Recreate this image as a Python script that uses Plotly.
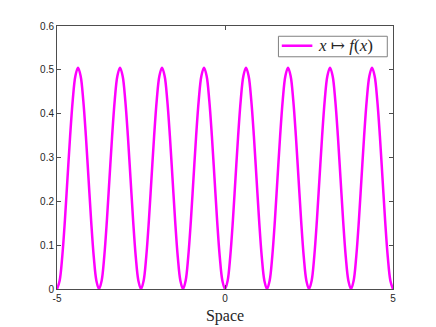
import plotly.graph_objects as go

x_vals = [
    -5.0, -4.921875, -4.84375, -4.765625, -4.6875, -4.609375, -4.53125, -4.453125,
    -4.375, -4.296875, -4.21875, -4.140625, -4.0625, -3.984375, -3.90625, -3.828125,
    -3.75, -3.671875, -3.59375, -3.515625, -3.4375, -3.359375, -3.28125, -3.203125,
    -3.125, -3.046875, -2.96875, -2.890625, -2.8125, -2.734375, -2.65625, -2.578125,
    -2.5, -2.421875, -2.34375, -2.265625, -2.1875, -2.109375, -2.03125, -1.953125,
    -1.875, -1.796875, -1.71875, -1.640625, -1.5625, -1.484375, -1.40625, -1.328125,
    -1.25, -1.171875, -1.09375, -1.015625, -0.9375, -0.859375, -0.78125, -0.703125,
    -0.625, -0.546875, -0.46875, -0.390625, -0.3125, -0.234375, -0.15625, -0.078125,
    0.0, 0.078125, 0.15625, 0.234375, 0.3125, 0.390625, 0.46875, 0.546875,
    0.625, 0.703125, 0.78125, 0.859375, 0.9375, 1.015625, 1.09375, 1.171875,
    1.25, 1.328125, 1.40625, 1.484375, 1.5625, 1.640625, 1.71875, 1.796875,
    1.875, 1.953125, 2.03125, 2.109375, 2.1875, 2.265625, 2.34375, 2.421875,
    2.5, 2.578125, 2.65625, 2.734375, 2.8125, 2.890625, 2.96875, 3.046875,
    3.125, 3.203125, 3.28125, 3.359375, 3.4375, 3.515625, 3.59375, 3.671875,
    3.75, 3.828125, 3.90625, 3.984375, 4.0625, 4.140625, 4.21875, 4.296875,
    4.375, 4.453125, 4.53125, 4.609375, 4.6875, 4.765625, 4.84375, 4.921875,
    5.0,
]
y_vals = [
    0.0, 0.019, 0.074, 0.156, 0.253, 0.349, 0.431, 0.486,
    0.505, 0.486, 0.431, 0.349, 0.253, 0.156, 0.074, 0.019,
    0.0, 0.019, 0.074, 0.156, 0.253, 0.349, 0.431, 0.486,
    0.505, 0.486, 0.431, 0.349, 0.253, 0.156, 0.074, 0.019,
    0.0, 0.019, 0.074, 0.156, 0.253, 0.349, 0.431, 0.486,
    0.505, 0.486, 0.431, 0.349, 0.253, 0.156, 0.074, 0.019,
    0.0, 0.019, 0.074, 0.156, 0.253, 0.349, 0.431, 0.486,
    0.505, 0.486, 0.431, 0.349, 0.253, 0.156, 0.074, 0.019,
    0.0, 0.019, 0.074, 0.156, 0.253, 0.349, 0.431, 0.486,
    0.505, 0.486, 0.431, 0.349, 0.253, 0.156, 0.074, 0.019,
    0.0, 0.019, 0.074, 0.156, 0.253, 0.349, 0.431, 0.486,
    0.505, 0.486, 0.431, 0.349, 0.253, 0.156, 0.074, 0.019,
    0.0, 0.019, 0.074, 0.156, 0.253, 0.349, 0.431, 0.486,
    0.505, 0.486, 0.431, 0.349, 0.253, 0.156, 0.074, 0.019,
    0.0, 0.019, 0.074, 0.156, 0.253, 0.349, 0.431, 0.486,
    0.505, 0.486, 0.431, 0.349, 0.253, 0.156, 0.074, 0.019,
    0.0,
]
x_ticks = [-5, 0, 5]
x_labels = ["-5", "0", "5"]
y_ticks = [0, 0.1, 0.2, 0.3, 0.4, 0.5, 0.6]
y_labels = ["0", "0.1", "0.2", "0.3", "0.4", "0.5", "0.6"]
legend_label = "<i>x</i> ↦ <i>f</i>(<i>x</i>)"

line_col = "#ff00ff"
axis_col = "#4d4d4d"
tick_font = dict(family="Liberation Sans, Arial", size=10, color="#262626")
serif = "Liberation Serif, DejaVu Serif"

fig = go.Figure()
fig.add_trace(go.Scatter(
    x=x_vals, y=y_vals, mode="lines", showlegend=False,
    line=dict(color=line_col, width=2.5, shape="spline", smoothing=1),
    name=legend_label,
))

# matlab-style compact legend box, drawn in paper coords
fig.add_shape(type="rect", xref="paper", yref="paper",
              x0=0.659, x1=0.983, y0=0.883, y1=0.961,
              line=dict(color="#808080", width=1), fillcolor="white", layer="above")
fig.add_shape(type="line", xref="paper", yref="paper",
              x0=0.669, x1=0.760, y0=0.925, y1=0.925,
              line=dict(color=line_col, width=2.5), layer="above")
fig.add_annotation(xref="paper", yref="paper", x=0.771, y=0.927,
                   xanchor="left", yanchor="middle", showarrow=False,
                   text=legend_label,
                   font=dict(family=serif, size=17, color="#262626"))

# page body has an 8px margin, so the plot box is shifted back by 8px
fig.update_layout(
    width=436, height=327,
    margin=dict(l=49, r=51, t=16, b=46),
    paper_bgcolor="white", plot_bgcolor="white",
    showlegend=False,
    xaxis=dict(
        range=[-5, 5], tickvals=x_ticks, ticktext=x_labels, ticks="inside", ticklen=4,
        tickcolor=axis_col, showline=True, linecolor=axis_col, linewidth=1,
        mirror="ticks", showgrid=False, zeroline=False, tickfont=tick_font,
        title=dict(text="Space", standoff=6,
                   font=dict(family=serif, size=16, color="#262626")),
    ),
    yaxis=dict(
        range=[0, 0.6], tickvals=y_ticks, ticktext=y_labels,
        ticks="inside", ticklen=4, tickcolor=axis_col, showline=True,
        linecolor=axis_col, linewidth=1, mirror="ticks", showgrid=False,
        zeroline=False, tickfont=tick_font,
    ),
)

fig.write_html("out.html")
